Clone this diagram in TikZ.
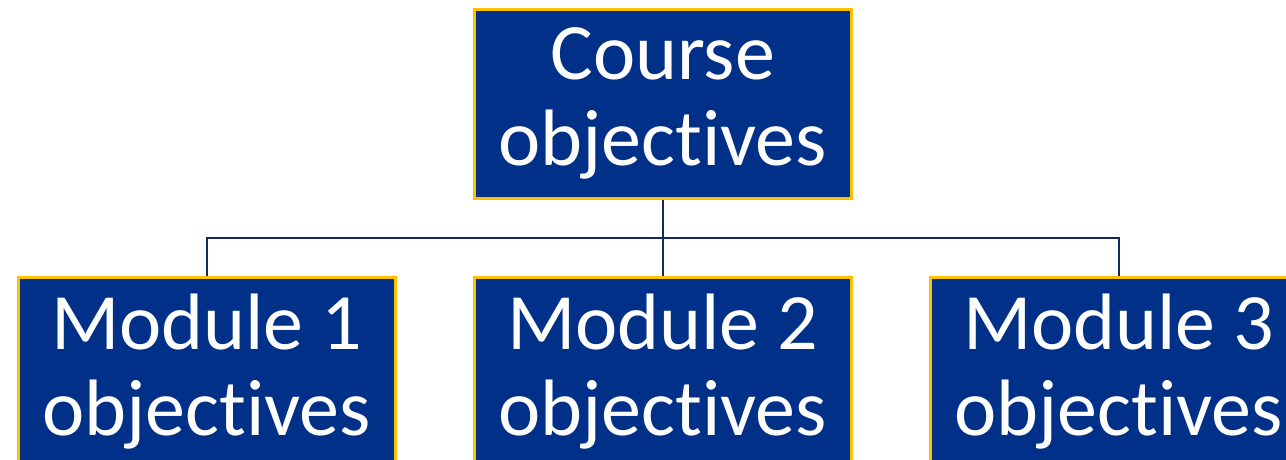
\documentclass[tikz,border=0pt]{standalone}
\usepackage{fontspec}
\setmainfont{Carlito}[RawFeature={-liga;-clig;-calt;-dlig}]
\usetikzlibrary{calc}
\definecolor{boxblue}{RGB}{0,48,135}
\definecolor{boxgold}{RGB}{255,192,0}
\definecolor{linenavy}{RGB}{16,40,100}
\newcommand\objword{objec\mbox{t}ives}
\tikzset{
  objbox/.style={draw=boxgold, fill=boxblue, line width=2.5pt, minimum width=377pt,
    minimum height=189pt, inner sep=0pt, text=white, align=center,
    font=\fontsize{80pt}{86pt}\selectfont, anchor=north west},
  conn/.style={draw=linenavy, line width=2pt}
}
\begin{document}
\begin{tikzpicture}[x=1pt,y=-1pt]
\useasboundingbox (0,0) rectangle (1286,459);
\node[objbox] (top) at (473,8) {Course\\\objword};
\node[objbox] (m1) at (17,276) {Module 1\\\objword};
\node[objbox] (m2) at (473,276) {Module 2\\\objword};
\node[objbox] (m3) at (929,276) {Module 3\\\objword};
\coordinate (j) at ($(top.south)!0.5!(m2.north)$);
\draw[conn] (top.south) -- (m2.north);
\draw[conn] (m1.north) |- (j) -| (m3.north);
\end{tikzpicture}
\end{document}
